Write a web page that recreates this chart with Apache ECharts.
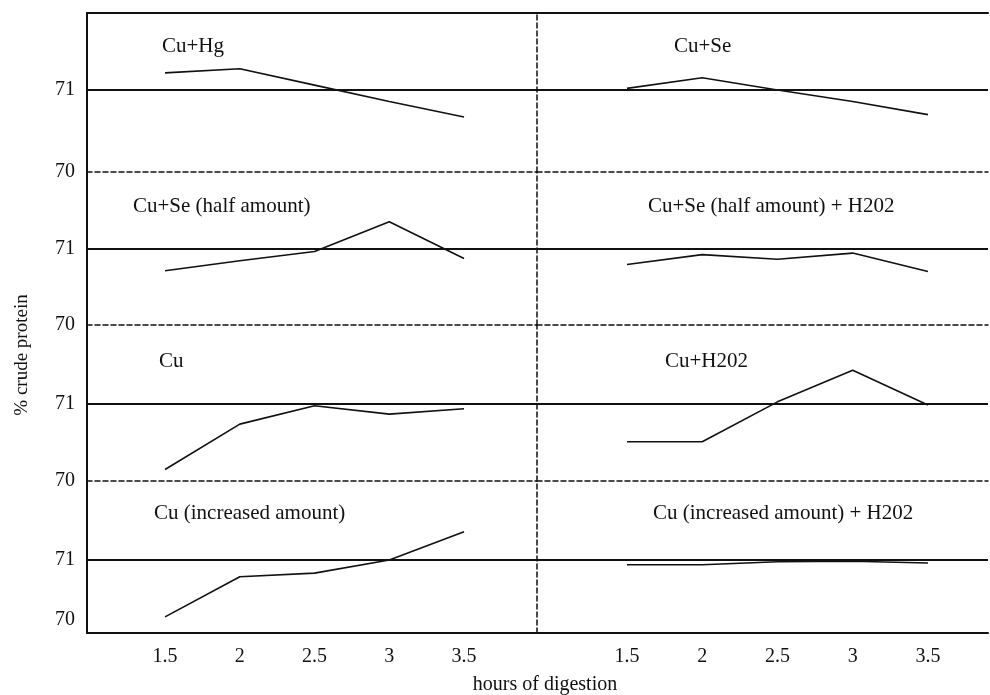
<!DOCTYPE html>
<html><head><meta charset="utf-8">
<script src="https://cdn.jsdelivr.net/npm/echarts@6/dist/echarts.min.js"></script>
<style>html,body{margin:0;padding:0;background:#fff}#c{width:990px;height:695px}</style>
</head><body><div id="c"></div>
<script>
// ---- data ----
const hours = [1.5, 2, 2.5, 3, 3.5];
const xTickLabels = ['1.5', '2', '2.5', '3', '3.5'];
const yTickValues = [70, 71];
const referenceLevel = 71;
const panelNames = [
  ['Cu+Hg', 'Cu+Se'],
  ['Cu+Se (half amount)', 'Cu+Se (half amount) + H202'],
  ['Cu', 'Cu+H202'],
  ['Cu (increased amount)', 'Cu (increased amount) + H202']
];
const cuHg          = [71.21, 71.26, 71.06, 70.86, 70.67];
const cuSe          = [71.02, 71.15, 71.00, 70.86, 70.70];
const cuSeHalf      = [70.71, 70.84, 70.96, 71.35, 70.87];
const cuSeHalfH2O2  = [70.79, 70.92, 70.86, 70.94, 70.70];
const cu            = [70.15, 70.74, 70.98, 70.87, 70.94];
const cuH2O2        = [70.51, 70.51, 71.03, 71.44, 70.99];
const cuInc         = [70.05, 70.72, 70.78, 71.00, 71.47];
const cuIncH2O2     = [70.92, 70.92, 70.97, 70.98, 70.95];
const panelValues = [
  [cuHg, cuSe],
  [cuSeHalf, cuSeHalfH2O2],
  [cu, cuH2O2],
  [cuInc, cuIncH2O2]
];

// ---- layout ----
const rowTop = [13, 172, 325, 481];
const rowBottom = [172, 325, 481, 633];
const yMin = [70, 70, 70, 69.78];
const yMax = [71.94, 72, 72.03, 72.32];
const colLeft = [87, 537];
const colRight = [537, 988];
const xMin = [0.978, 0.902];
const xMax = [3.988, 3.899];
const titleLeft = [[162, 674], [133, 648], [159, 665], [154, 653]];
const titleCenterY = [48, 208, 363, 515];
const FONT = 'Liberation Serif, Times New Roman, serif';
const INK = '#111';

const grids = [], xAxes = [], yAxes = [], series = [], titles = [];
let gi = 0;
for (let r = 0; r < 4; r++) {
  for (let c = 0; c < 2; c++) {
    grids.push({
      left: colLeft[c], width: colRight[c] - colLeft[c],
      top: rowTop[r], height: rowBottom[r] - rowTop[r]
    });
    const lastRow = r === 3;
    xAxes.push({
      type: 'value', gridIndex: gi, min: xMin[c], max: xMax[c], position: 'bottom',
      axisLine: { show: true, onZero: false,
        lineStyle: { color: INK, width: lastRow ? 2 : 1.5, type: lastRow ? 'solid' : [5, 3] } },
      axisTick: { show: false }, splitLine: { show: false },
      axisLabel: lastRow ? {
        show: true, customValues: hours, margin: 14,
        fontFamily: FONT, fontSize: 20, color: INK,
        formatter: v => xTickLabels[hours.indexOf(v)] ?? ''
      } : { show: false }
    });
    yAxes.push({
      type: 'value', gridIndex: gi, min: yMin[r], max: yMax[r],
      axisLine: { show: true, onZero: false,
        lineStyle: { color: INK, width: c === 0 ? 2 : 1.5, type: c === 0 ? 'solid' : [5, 3] } },
      axisTick: { show: false }, splitLine: { show: false },
      axisLabel: c === 0 ? {
        show: true, customValues: yTickValues, margin: 12,
        fontFamily: FONT, fontSize: 20, color: INK, formatter: v => String(v)
      } : { show: false }
    });
    series.push({
      type: 'line', xAxisIndex: gi, yAxisIndex: gi,
      data: hours.map((h, k) => [h, panelValues[r][c][k]]),
      symbol: 'none', lineStyle: { color: INK, width: 1.6 },
      markLine: {
        silent: true, symbol: ['none', 'none'], label: { show: false },
        lineStyle: { color: INK, width: 2, type: 'solid' },
        data: [{ yAxis: referenceLevel }]
      }
    });
    titles.push({
      text: panelNames[r][c], left: titleLeft[r][c], top: titleCenterY[r] - 12, padding: 0,
      textStyle: { fontFamily: FONT, fontSize: 21, fontWeight: 'normal', color: INK }
    });
    gi++;
  }
}
// top frame line of the first row
for (let c = 0; c < 2; c++) {
  xAxes.push({
    type: 'value', gridIndex: c, min: xMin[c], max: xMax[c], position: 'top',
    axisLine: { show: true, onZero: false, lineStyle: { color: INK, width: 2 } },
    axisTick: { show: false }, splitLine: { show: false }, axisLabel: { show: false }
  });
}
titles.push({
  text: 'hours of digestion', left: 545, top: 675, textAlign: 'center', padding: 0,
  textStyle: { fontFamily: FONT, fontSize: 20, fontWeight: 'normal', color: INK }
});

const chart = echarts.init(document.getElementById('c'), null, { renderer: 'canvas' });
chart.setOption({
  animation: false,
  backgroundColor: '#fff',
  title: titles,
  grid: grids,
  xAxis: xAxes,
  yAxis: yAxes,
  series: series,
  graphic: [{
    type: 'text', x: 22, y: 355, rotation: Math.PI / 2,
    style: { text: '% crude protein', fontFamily: FONT, fontSize: 19, fill: INK,
      align: 'center', verticalAlign: 'middle' }
  }]
});
</script></body></html>
